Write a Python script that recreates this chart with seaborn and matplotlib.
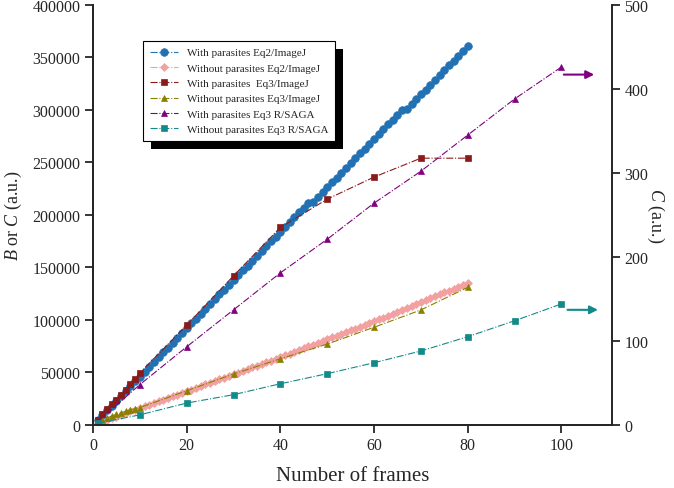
import numpy as np
import matplotlib
matplotlib.use("Agg")
import matplotlib.pyplot as plt
import matplotlib.patches as mpatches
from matplotlib.transforms import IdentityTransform
import seaborn as sns

# ==============================
# Data
# ==============================
frames_all = list(range(1, 81))
frames_sparse = list(range(1, 11)) + [20, 30, 40, 50, 60, 70, 80]
frames_saga = [1, 10, 20, 30, 40, 50, 60, 70, 80, 90, 100]

# B, left axis (thousands)
with_eq2 = [4.6, 9.2, 13.8, 18.4, 23.0, 27.6, 32.2, 36.8, 41.4, 46.0,
            50.6, 55.2, 59.8, 64.4, 69.0, 73.6, 78.2, 82.8, 87.4, 92.0,
            96.6, 101.2, 105.8, 110.4, 115.0, 119.6, 124.2, 128.8, 133.4, 138.0,
            142.6, 147.2, 151.8, 156.4, 161.0, 165.6, 170.2, 174.8, 179.4, 184.0,
            188.6, 193.2, 197.8, 202.4, 207.0, 211.6, 212.5, 217.1, 221.7, 226.3,
            230.9, 235.5, 240.1, 244.7, 249.3, 253.9, 258.5, 263.1, 267.7, 272.3,
            276.9, 281.5, 286.1, 290.7, 295.3, 299.9, 301.0, 305.6, 310.2, 314.8,
            319.4, 324.0, 328.6, 333.2, 337.8, 342.4, 347.0, 351.6, 356.2, 360.8]
without_eq2 = [1.6, 3.2, 4.8, 6.4, 8.0, 9.6, 11.2, 12.8, 14.4, 16.0,
               17.6, 19.2, 20.8, 22.4, 24.0, 25.6, 27.2, 28.8, 30.4, 32.0,
               33.6, 35.2, 36.9, 38.5, 40.1, 41.7, 43.4, 45.0, 46.6, 48.2,
               49.9, 51.5, 53.1, 54.8, 56.4, 58.0, 59.7, 61.3, 62.9, 64.6,
               66.3, 68.0, 69.7, 71.4, 73.1, 74.8, 76.5, 78.2, 79.9, 81.6,
               83.3, 85.0, 86.7, 88.4, 90.1, 91.8, 93.5, 95.2, 96.9, 98.6,
               100.4, 102.2, 104.0, 105.8, 107.6, 109.4, 111.2, 113.0, 114.8, 116.6,
               118.5, 120.4, 122.3, 124.2, 126.1, 128.0, 129.9, 131.8, 133.7, 135.6]
with_eq3 = [5, 10, 15, 20, 24, 28.6, 33.5, 38.5, 44, 49.5,
            95, 142, 188, 215, 236, 254, 254]
without_eq3 = [2.5, 4.5, 6.5, 8.5, 10, 11.5, 13, 14.5, 15.5, 16.5,
               32.5, 48.5, 63, 77, 93, 109.5, 131]

# C, right axis
with_saga = [4, 48, 93, 137, 181, 221, 264, 302, 345, 388, 426]
without_saga = [2, 12, 26, 36, 49, 61, 74, 88, 105, 124, 144]

labels = ["With parasites Eq2/ImageJ", "Without parasites Eq2/ImageJ",
          "With parasites  Eq3/ImageJ", "Without parasites Eq3/ImageJ",
          "With parasites Eq3 R/SAGA", "Without parasites Eq3 R/SAGA"]
colors = ["#2271b3", "#f2a0a0", "#8b1a1a", "#8a8000", "#800080", "#138a8a"]

# ==============================
# Style
# ==============================
sns.set_style("ticks")
plt.rcParams["font.family"] = ["Liberation Serif", "DejaVu Serif"]
plt.rcParams["mathtext.fontset"] = "custom"
plt.rcParams["mathtext.rm"] = "Liberation Serif"
plt.rcParams["mathtext.it"] = "Liberation Serif:italic"

fig = plt.figure(figsize=(6.74, 4.89), dpi=100)
ax = fig.add_axes([0.138, 0.129, 0.770, 0.859])
ax2 = ax.twinx()

def draw(axis, x, y, color, marker, ms, label):
    sns.lineplot(x=x, y=y, ax=axis, color=color, marker=marker, markersize=ms,
                 linestyle="-.", linewidth=0.8, markeredgecolor=color,
                 markeredgewidth=0.5, label=label, legend=False)

draw(ax, frames_all, np.array(with_eq2) * 1000, colors[0], "o", 5.5, labels[0])
draw(ax, frames_all, np.array(without_eq2) * 1000, colors[1], "D", 4.5, labels[1])
draw(ax, frames_sparse, np.array(with_eq3) * 1000, colors[2], "s", 4.5, labels[2])
draw(ax, frames_sparse, np.array(without_eq3) * 1000, colors[3], "^", 5, labels[3])
draw(ax2, frames_saga, with_saga, colors[4], "^", 5, labels[4])
draw(ax2, frames_saga, without_saga, colors[5], "s", 4.5, labels[5])

# arrows pointing at the right axis
ax2.annotate("", xy=(107, 417), xytext=(100.5, 417),
             arrowprops=dict(arrowstyle="-|>", color=colors[4], lw=1.5,
                             mutation_scale=12, shrinkA=0, shrinkB=0))
ax2.annotate("", xy=(107.8, 137), xytext=(101.3, 137),
             arrowprops=dict(arrowstyle="-|>", color=colors[5], lw=1.5,
                             mutation_scale=12, shrinkA=0, shrinkB=0))

# ==============================
# Axes
# ==============================
ax.set_xlim(0, 110.8)
ax.set_ylim(0, 400000)
ax2.set_ylim(0, 500)
ax.set_xticks([0, 20, 40, 60, 80, 100])
ax.set_yticks(np.arange(0, 400001, 50000))
ax2.set_yticks(np.arange(0, 501, 100))

for a in (ax, ax2):
    a.tick_params(direction="out", length=6, width=1.3, labelsize=11.5, pad=3)
    a.spines["top"].set_visible(False)
    for s in ("left", "right", "bottom"):
        a.spines[s].set_linewidth(1.4)
ax.spines["right"].set_visible(False)

ax.set_xlabel("Number of frames", fontsize=15, labelpad=9)
ax.set_ylabel(r"$B$ or $C$ (a.u.)", fontsize=13, labelpad=6)
ax2.set_ylabel(r"$C$ (a.u.)", fontsize=13, rotation=270, labelpad=13)

# ==============================
# Legend with solid black shadow
# ==============================
h1, l1 = ax.get_legend_handles_labels()
h2, l2 = ax2.get_legend_handles_labels()
leg = ax2.legend(h1 + h2, l1 + l2, loc="upper left", bbox_to_anchor=(0.096, 0.914),
                 borderaxespad=0, fontsize=8, frameon=True, fancybox=False,
                 framealpha=1, edgecolor="black", handlelength=2.6,
                 labelspacing=0.5, borderpad=0.6)
leg.get_frame().set_linewidth(0.8)
leg.set_zorder(10)

fig.canvas.draw()
bb = leg.get_window_extent()
shadow = mpatches.Rectangle((bb.x0 + 8, bb.y0 - 8), bb.width, bb.height,
                            transform=IdentityTransform(), facecolor="black",
                            edgecolor="none", zorder=9, clip_on=False)
ax2.add_patch(shadow)

fig.savefig("out.png", dpi=100)
